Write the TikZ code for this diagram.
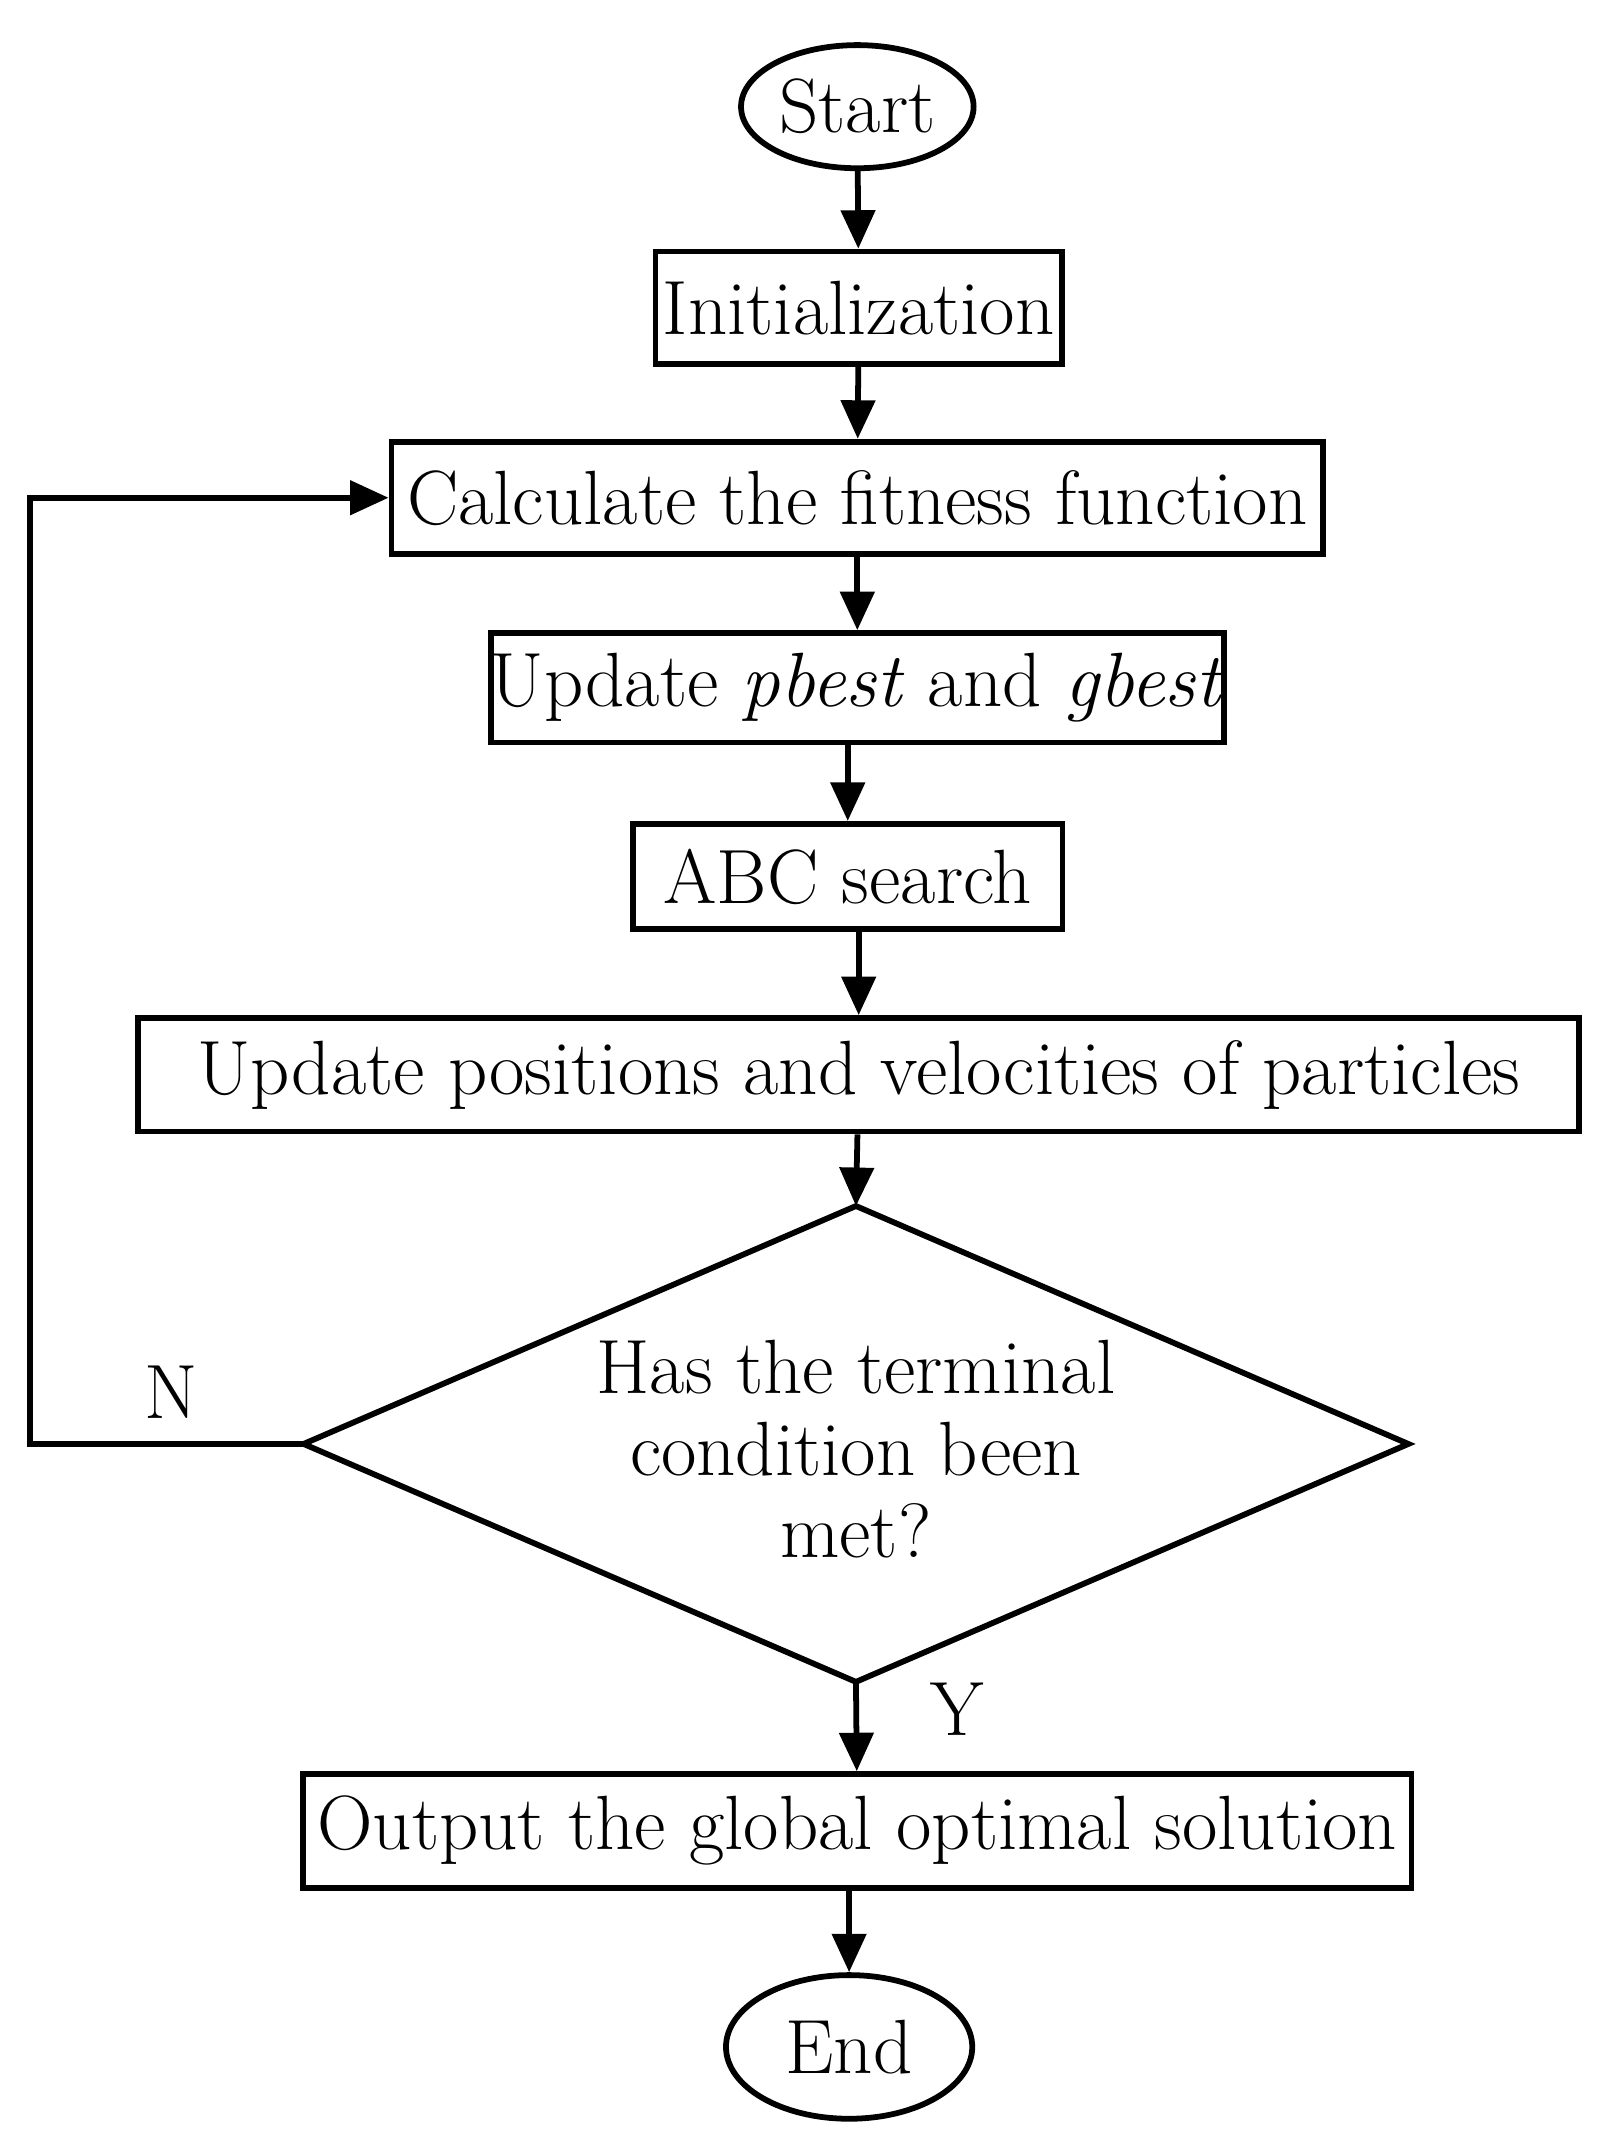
\documentclass[tikz,border=0pt]{standalone}
\usetikzlibrary{shapes.geometric,arrows.meta}
\begin{document}
\begin{tikzpicture}[x=0.01cm,y=-0.01cm,
  every node/.style={font=\fontsize{16}{17.6}\selectfont, inner sep=0pt},
  box/.style={draw, line width=1.2pt, minimum height=0.82cm},
  term/.style={draw, ellipse, line width=1.2pt},
  arr/.style={-{Triangle[length=8pt,width=7pt]}, line width=1.2pt}]
\useasboundingbox (0,0) rectangle (1180,1568);
\node[term, minimum width=1.7cm, minimum height=0.9cm] (start) at (627,78) {Start};
\node[box, minimum width=2.97cm] (init) at (628,225) {Initialization};
\node[box, minimum width=6.81cm] (calc) at (627,364) {Calculate the fitness function};
\node[box, minimum width=5.27cm, minimum height=0.8cm] (upd) at (627,503) {Update \textit{pbest} and \textit{gbest}};
\node[box, minimum width=3.14cm, minimum height=0.77cm] (abc) at (620,641) {ABC search};
\node[box, minimum width=10.53cm, minimum height=0.83cm] (pos) at (628,786) {Update positions and velocities of particles};
\coordinate (dt) at (626,882);
\coordinate (db) at (626,1230);
\coordinate (dl) at (222,1056);
\coordinate (dr) at (1030,1056);
\draw[line width=1.2pt] (dt) -- (dr) -- (db) -- (dl) -- cycle;
\node[align=center] (q) at (626,1060) {Has the terminal\\[0.6cm-17.6pt]condition been\\[0.6cm-17.6pt]met?};
\node[box, minimum width=8.1cm, minimum height=0.83cm] (out) at (627,1339) {Output the global optimal solution};
\node[term, minimum width=1.8cm, minimum height=1.05cm] (end) at (621,1497) {End};
\coordinate (c1) at (22,1056);
\coordinate (c2) at (22,364);
\draw[arr] (start) -- (init);
\draw[arr] (init) -- (calc);
\draw[arr] (calc) -- (upd);
\draw[arr] (upd.south -| abc) -- (abc);
\draw[arr] (abc.south -| pos) -- (pos);
\draw[arr] (pos) -- (dt);
\draw[arr] (db) -- (out);
\draw[arr] (out.south -| end) -- (end);
\draw[arr] (dl) -- (c1) -- (c2) -- (calc.west);
\node (n) at (125,1018) {N};
\node (y) at (700,1250) {Y};
\end{tikzpicture}
\end{document}
